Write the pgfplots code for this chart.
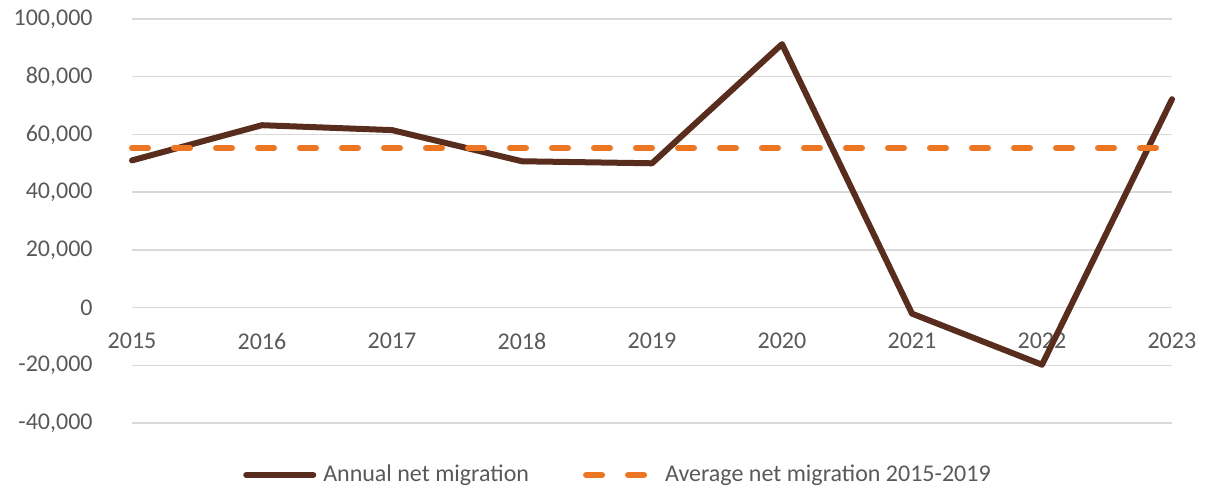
\documentclass[border=0pt]{standalone}
\usepackage{pgfplots}
\pgfplotsset{compat=1.18}
\usepackage{fontspec}
\setmainfont{Carlito}
\definecolor{netbrown}{RGB}{88,45,30}
\definecolor{avgorange}{RGB}{237,118,36}
\definecolor{gridgray}{RGB}{217,217,217}
\definecolor{labelgray}{RGB}{89,89,89}
% legend samples, lengths
\pgfplotsset{
  solid sample/.style={legend image code/.code={\draw[##1] (0pt,0pt) -- (33.5pt,0pt);}},
  dashed sample/.style={legend image code/.code={\draw[##1] (0pt,0pt) -- (34.5pt,0pt);}},
}

\begin{document}
\begin{tikzpicture}
% fixed page box: 1px of the reference = 0.5pt
\path[use as bounding box] (-66pt,-33pt) rectangle (543pt,211.5pt);
\begin{axis}[
  at={(0pt,0pt)}, anchor=south west,
  scale only axis, width=520pt, height=202pt,
  xmin=2015, xmax=2023, ymin=-40000, ymax=100000,
  xtick={2015,...,2023}, ytick={-40000,-20000,...,100000},
  axis x line=middle, axis y line=left,
  hide obscured x ticks=false, hide obscured y ticks=false,
  x axis line style={draw=gridgray, line width=0.7pt, -},
  y axis line style={draw=none},
  ymajorgrids, grid style={draw=gridgray, line width=0.7pt},
  major tick length=0pt,
  scaled y ticks=false,
  font=\fontsize{12pt}{14pt}\selectfont,
  tick label style={text=labelgray},
  /pgf/number format/assume math mode=true,
  y tick label style={/pgf/number format/1000 sep={,}, /pgf/number format/fixed},
  x tick label style={/pgf/number format/1000 sep={}, anchor=north, inner sep=0pt, yshift=-12.5pt},
  yticklabel style={anchor=east, inner sep=0pt, xshift=-19.5pt},
  clip=false,
  legend columns=2,
  legend style={at={(0.4663,-0.1287)}, anchor=center, draw=none, fill=none,
    text=labelgray, font=\fontsize{12pt}{14pt}\selectfont,
    nodes={inner sep=0pt},
    /tikz/every odd column/.append style={column sep=3.5pt},
    /tikz/every even column/.append style={column sep=27pt}},
]
\addplot[netbrown, line width=3pt, line join=round, line cap=round, solid sample]
  coordinates {(2015,51000) (2016,63200) (2017,61500) (2018,50700) (2019,50000)
               (2020,91300) (2021,-2100) (2022,-19800) (2023,72200)};
\addlegendentry{Annual net migration}
\addplot[avgorange, line width=3pt, line cap=round, dash pattern=on 8pt off 13pt, dashed sample]
  coordinates {(2015,55300) (2023,55300)};
\addlegendentry{Average net migration 2015-2019}
\end{axis}
\end{tikzpicture}
\end{document}
